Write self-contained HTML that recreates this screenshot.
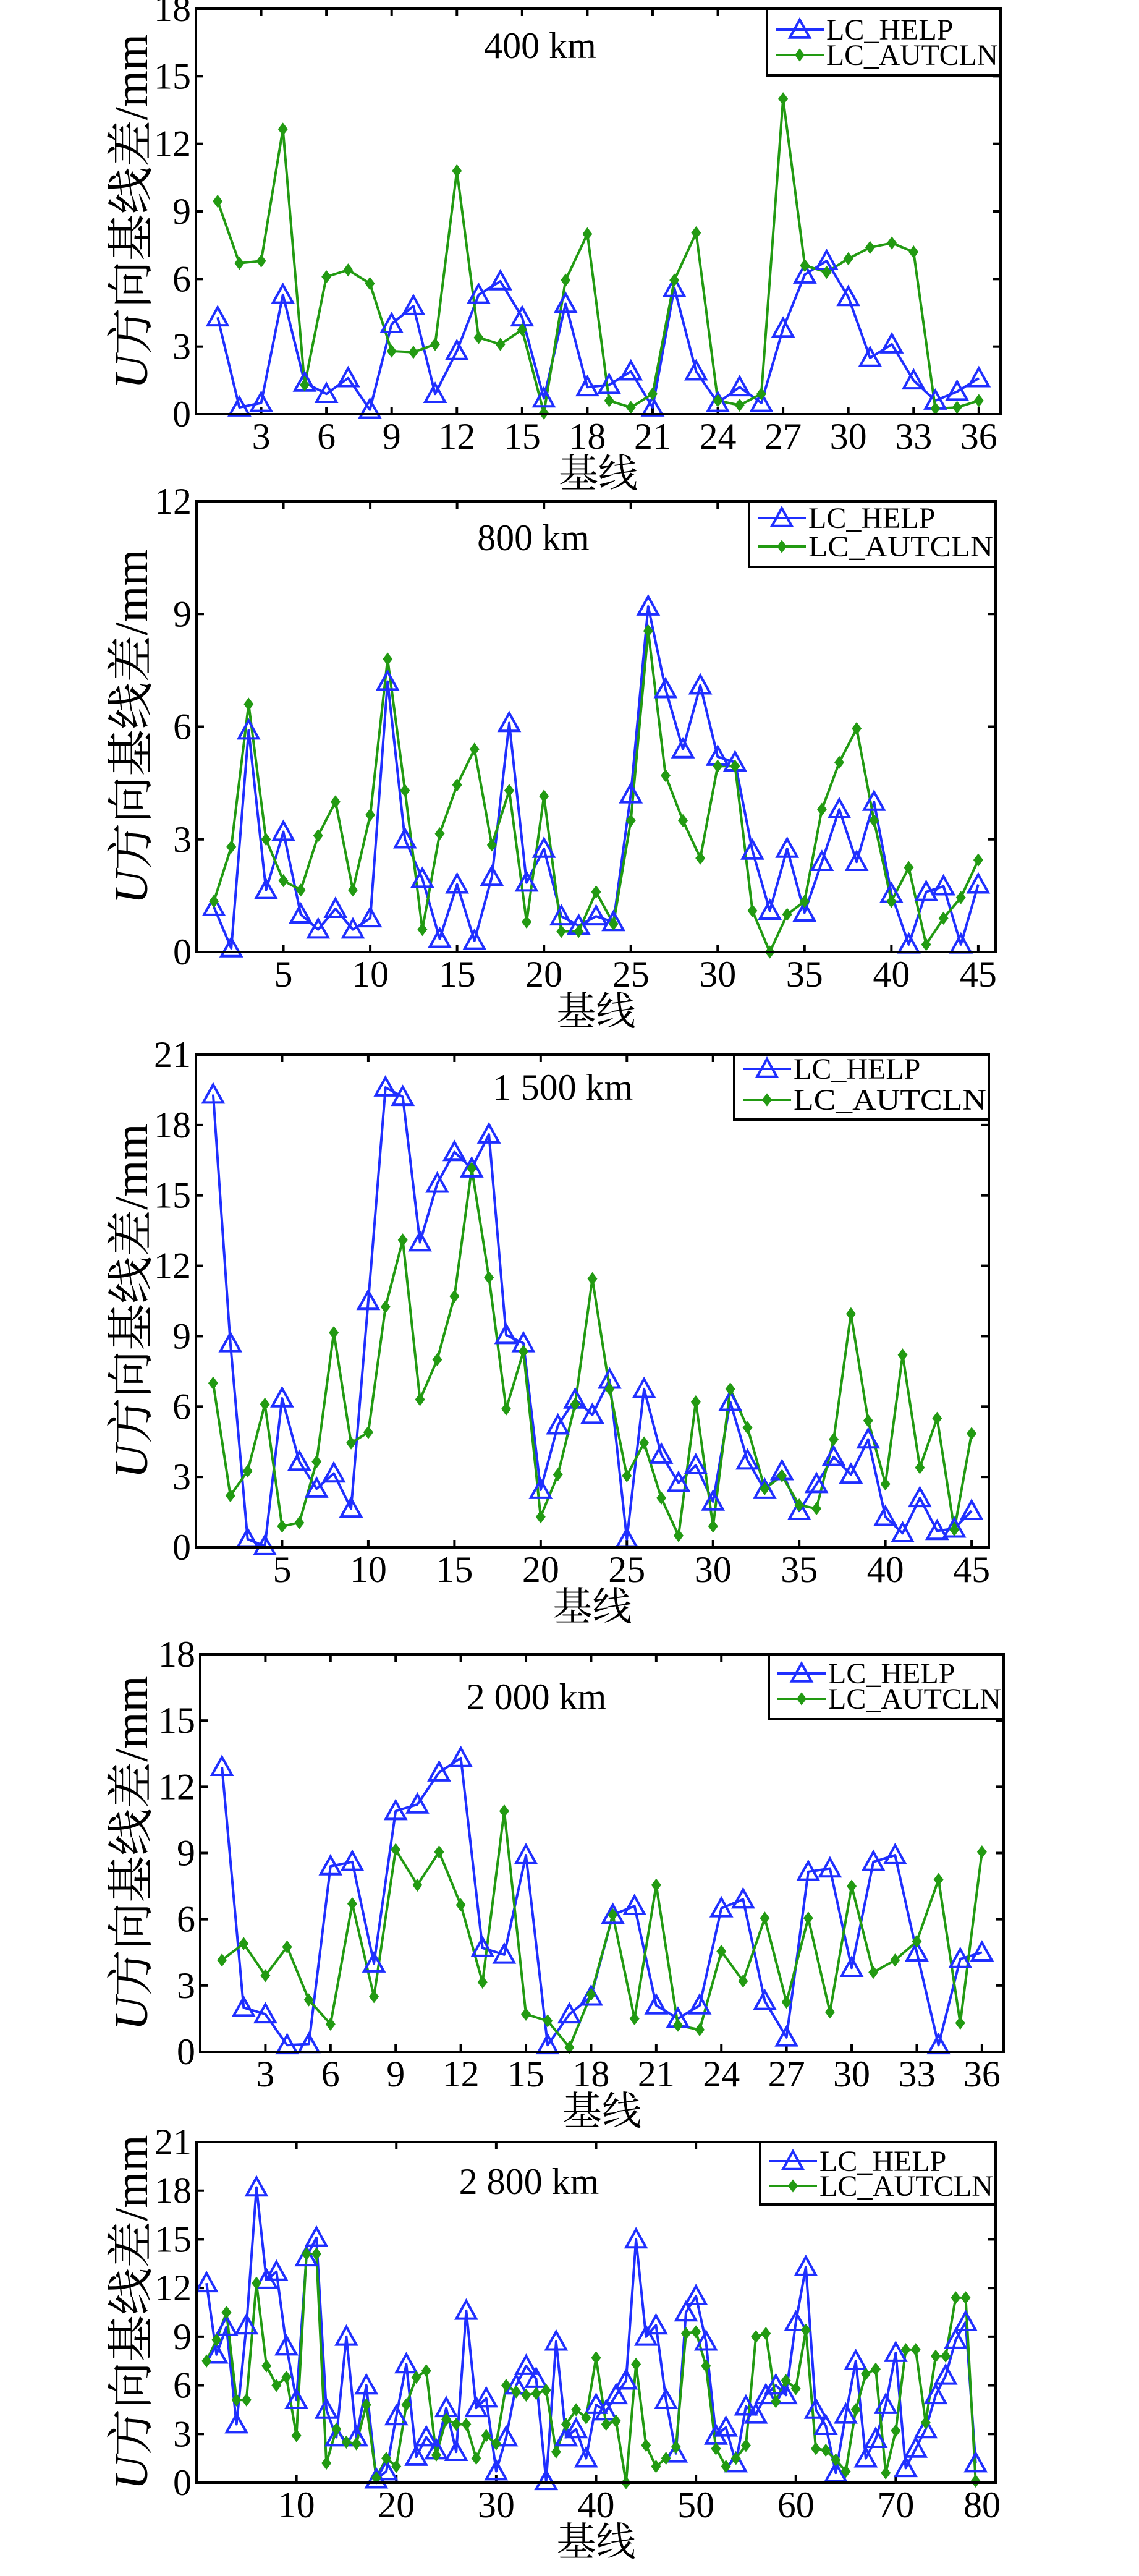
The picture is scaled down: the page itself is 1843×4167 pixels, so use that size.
<!DOCTYPE html>
<html><head><meta charset="utf-8">
<style>
html,body{margin:0;padding:0;background:#fff;}
svg{display:block;}
text{font-family:"Liberation Serif","Noto Serif CJK SC","Noto Sans CJK SC",serif;fill:#000;}
</style></head>
<body>
<svg id="chart" xmlns="http://www.w3.org/2000/svg" width="1843" height="4167" viewBox="0 0 1843 4167"></svg>
<script>
// ---- data ----
const help400 = [4.3,0.3,0.5,5.3,1.4,0.9,1.6,0.2,4.0,4.8,0.9,2.8,5.3,5.9,4.3,0.7,4.9,1.2,1.3,1.9,0.3,5.6,1.9,0.5,1.2,0.5,3.8,6.2,6.8,5.2,2.5,3.1,1.5,0.6,1.0,1.6];
const aut400 = [9.45,6.7,6.8,12.65,1.3,6.1,6.4,5.8,2.8,2.75,3.1,10.8,3.4,3.1,3.75,0.05,5.95,8.0,0.6,0.3,0.9,5.95,8.05,0.6,0.4,0.9,14.0,6.6,6.3,6.9,7.4,7.6,7.2,0.25,0.3,0.6];
const help800 = [1.2,0.1,5.9,1.65,3.2,1.0,0.6,1.15,0.6,0.9,7.2,3.0,1.95,0.35,1.8,0.3,2.0,6.1,1.85,2.75,0.95,0.7,0.95,0.8,4.2,9.2,7.0,5.4,7.1,5.2,5.05,2.7,1.1,2.75,1.05,2.4,3.8,2.4,4.0,1.55,0.2,1.6,1.75,0.2,1.8];
const aut800 = [1.35,2.8,6.6,3.0,1.9,1.65,3.1,4.0,1.65,3.65,7.8,4.3,0.6,3.15,4.45,5.4,2.85,4.3,0.8,4.15,0.55,0.55,1.6,0.75,3.5,8.55,4.7,3.5,2.5,4.95,4.95,1.1,0.0,1.0,1.35,3.8,5.05,5.95,3.5,1.35,2.25,0.2,0.9,1.45,2.45];
const help1500 = [19.3,8.7,0.35,0.05,6.35,3.65,2.5,3.15,1.65,10.5,19.6,19.2,13.0,15.5,16.85,16.15,17.6,9.05,8.7,2.45,5.2,6.3,5.65,7.15,0.35,6.75,3.95,2.75,3.5,1.95,6.2,3.7,2.45,3.25,1.55,2.7,3.85,3.1,4.6,1.3,0.6,2.1,0.7,0.8,1.55];
const aut1500 = [7.0,2.2,3.25,6.1,0.9,1.05,3.65,9.15,4.45,4.9,10.25,13.1,6.3,8.0,10.7,16.15,11.5,5.9,8.35,1.3,3.1,6.1,11.45,6.75,3.05,4.45,2.1,0.5,6.2,0.9,6.75,5.1,2.5,3.05,1.8,1.65,4.6,9.95,5.4,2.7,8.2,3.4,5.5,0.75,4.85];
const help2000 = [12.9,2.0,1.7,0.3,0.35,8.4,8.6,4.0,10.9,11.2,12.65,13.3,4.7,4.4,8.9,0.3,1.7,2.5,6.2,6.6,2.1,1.5,2.1,6.5,6.9,2.3,0.65,8.15,8.3,3.8,8.6,8.9,4.5,0.3,4.2,4.5];
const aut2000 = [4.15,4.9,3.45,4.75,2.35,1.25,6.7,2.5,9.15,7.55,9.05,6.65,3.15,10.9,1.7,1.4,0.2,2.6,6.2,1.5,7.55,1.2,1.0,4.55,3.2,6.05,2.25,6.05,1.8,7.5,3.6,4.15,5.0,7.8,1.3,9.05];
const help2800 = [12.3,7.9,9.6,3.6,9.7,18.2,12.5,13.0,8.4,5.1,13.9,15.1,4.5,2.8,9.0,2.8,6.0,0.2,0.7,4.1,7.3,1.6,2.8,2.0,4.6,1.9,10.6,4.6,5.2,0.7,2.8,6.0,7.2,6.4,0.1,8.7,2.8,3.3,1.5,4.8,4.4,5.4,6.3,15.0,9.0,9.7,5.1,1.8,10.5,11.5,8.7,2.9,3.4,1.2,4.7,4.2,5.4,6.0,5.4,9.9,13.3,4.5,3.5,0.6,4.2,7.5,1.5,2.7,4.8,8.0,0.9,2.1,3.3,5.4,6.6,8.8,9.9,1.2];
const aut2800 = [7.5,8.8,10.5,5.1,5.1,12.3,7.2,6.0,6.5,2.9,14.1,14.1,1.2,3.3,2.5,2.4,4.8,0.3,1.5,1.0,4.8,6.5,6.9,1.7,3.9,3.6,3.6,1.5,2.9,2.4,6.0,5.6,5.4,5.5,5.7,1.9,3.6,4.5,4.0,7.7,3.6,3.8,0.0,7.3,2.3,1.0,1.5,2.2,9.2,9.3,7.2,2.1,1.0,1.5,2.3,9.0,9.2,5.0,6.3,5.8,9.4,2.1,2.0,1.4,0.7,4.5,6.7,7.0,0.6,3.2,8.2,8.2,3.7,7.8,7.8,11.4,11.4,0.1];
const xticks400 = [3,6,9,12,15,18,21,24,27,30,33,36];
const xticks800 = [5,10,15,20,25,30,35,40,45];
const xticks2800 = [10,20,30,40,50,60,70,80];
const yticks18 = [0,3,6,9,12,15,18];
const yticks12 = [0,3,6,9,12];
const yticks21 = [0,3,6,9,12,15,18,21];
const titles = ["400 km","800 km","1 500 km","2 000 km","2 800 km"];

const panels = [
 {L:317,R:1619,T:14,B:670,xmax:37,ymax:18,xt:xticks400,yt:yticks18,h:help400,a:aut400,title:titles[0],tx:874,ty:74,lg:[1241,14,1619,122],r1:48,r2:89},
 {L:318,R:1611,T:811,B:1540,xmax:46,ymax:12,xt:xticks800,yt:yticks12,h:help800,a:aut800,title:titles[1],tx:863,ty:870,lg:[1212,811,1611,917],r1:838,r2:884},
 {L:317,R:1600,T:1706,B:2503,xmax:46,ymax:21,xt:xticks800,yt:yticks21,h:help1500,a:aut1500,title:titles[2],tx:911,ty:1759,lg:[1188,1706,1600,1811],r1:1729,r2:1779},
 {L:324,R:1624,T:2676,B:3319,xmax:37,ymax:18,xt:xticks400,yt:yticks18,h:help2000,a:aut2000,title:titles[3],tx:868,ty:2745,lg:[1244,2676,1624,2781],r1:2707,r2:2748},
 {L:318,R:1611,T:3465,B:4016,xmax:80,ymax:21,xt:xticks2800,yt:yticks21,h:help2800,a:aut2800,title:titles[4],tx:856,ty:3529,lg:[1230,3465,1611,3566],r1:3496,r2:3536}
];
const NS="http://www.w3.org/2000/svg";
const svg=document.getElementById('chart');
function mk(tag,attrs,parent){const e=document.createElementNS(NS,tag);for(const k in attrs)e.setAttribute(k,attrs[k]);(parent||svg).appendChild(e);return e;}
const BLUE="#1f2fff", GREEN="#229a12";
function tri(g,x,y,name){
  const s=16;
  const p=mk('polygon',{points:`${x},${y-s} ${x-s},${y+s*0.8} ${x+s},${y+s*0.8}`,fill:'none',stroke:BLUE,'stroke-width':4},g);
  
  
}
function dia(g,x,y,name){
  const s=9;
  const p=mk('polygon',{points:`${x},${y-s} ${x+s*0.75},${y} ${x},${y+s} ${x-s*0.75},${y}`,fill:GREEN,stroke:GREEN,'stroke-width':2},g);
  
  
}
panels.forEach((P,pi)=>{
  const g=mk('g',{});
  
  
  const xs=v=>P.L+(P.R-P.L)*v/P.xmax;
  const ys=v=>P.B-(P.B-P.T)*v/P.ymax;
  P.yt.forEach(t=>{
    const y=ys(t);
    mk('line',{x1:P.L,y1:y,x2:P.L+12,y2:y,stroke:'#000','stroke-width':4},g);
    mk('line',{x1:P.R,y1:y,x2:P.R-12,y2:y,stroke:'#000','stroke-width':4},g);
    const tx=mk('text',{x:P.L-8,y:y+20,'text-anchor':'end','font-size':60},g);
    tx.textContent=t;
    
    
  });
  P.xt.forEach(t=>{
    const x=xs(t);
    mk('line',{x1:x,y1:P.B,x2:x,y2:P.B-12,stroke:'#000','stroke-width':4},g);
    mk('line',{x1:x,y1:P.T,x2:x,y2:P.T+12,stroke:'#000','stroke-width':4},g);
    const lx = (x>P.R-5) ? x-22 : x;
    const tx=mk('text',{x:lx,y:P.B+56,'text-anchor':'middle','font-size':60},g);
    tx.textContent=t;
    
    
  });
  const ph=P.h.map((v,i)=>xs(i+1)+','+ys(v)).join(' ');
  const pa=P.a.map((v,i)=>xs(i+1)+','+ys(v)).join(' ');
  const lh=mk('polyline',{points:ph,fill:'none',stroke:BLUE,'stroke-width':4,'stroke-linejoin':'round'},g);
  
  
  const la=mk('polyline',{points:pa,fill:'none',stroke:GREEN,'stroke-width':4,'stroke-linejoin':'round'},g);
  
  
  P.h.forEach((v,i)=>tri(g,xs(i+1),ys(v),'lc-help-point'));
  P.a.forEach((v,i)=>dia(g,xs(i+1),ys(v),'lc-autcln-point'));
  const box=mk('rect',{x:P.L,y:P.T,width:P.R-P.L,height:P.B-P.T,fill:'none',stroke:'#000','stroke-width':4},g);
  
  
  const ti=mk('text',{x:P.tx,y:P.ty+20,'text-anchor':'middle','font-size':60},g);
  ti.textContent=P.title;
  
  
  const xl=mk('text',{x:(P.L+P.R)/2,y:P.B+118,'text-anchor':'middle','font-size':64},g);
  xl.textContent='基线';
  
  
  const yl=mk('text',{x:0,y:0,'text-anchor':'middle','font-size':76,transform:`translate(238,${(P.T+P.B)/2}) rotate(-90)`},g);
  const u=mk('tspan',{'font-style':'italic'},yl);u.textContent='U';
  const rest=mk('tspan',{},yl);rest.textContent='方向基线差/mm';
  
  
  const [lx1,ly1,lx2,ly2]=P.lg;
  const lg=mk('g',{},g);
  
  
  mk('rect',{x:lx1,y:ly1,width:lx2-lx1,height:ly2-ly1,fill:'#fff',stroke:'#000','stroke-width':4},lg);
  mk('line',{x1:lx1+14,y1:P.r1,x2:lx1+92,y2:P.r1,stroke:BLUE,'stroke-width':4},lg);
  tri(lg,lx1+53,P.r1,'legend-help-marker');
  mk('line',{x1:lx1+14,y1:P.r2,x2:lx1+92,y2:P.r2,stroke:GREEN,'stroke-width':4},lg);
  dia(lg,lx1+53,P.r2,'legend-autcln-marker');
  const t1=mk('text',{x:lx1+96,y:P.r1+16,'font-size':48},lg);t1.textContent='LC_HELP';
  
  
  const t2=mk('text',{x:lx1+96,y:P.r2+16,'font-size':48,textLength:lx2-lx1-100,lengthAdjust:'spacingAndGlyphs'},lg);t2.textContent='LC_AUTCLN';
  
  
});
</script>
</body></html>
